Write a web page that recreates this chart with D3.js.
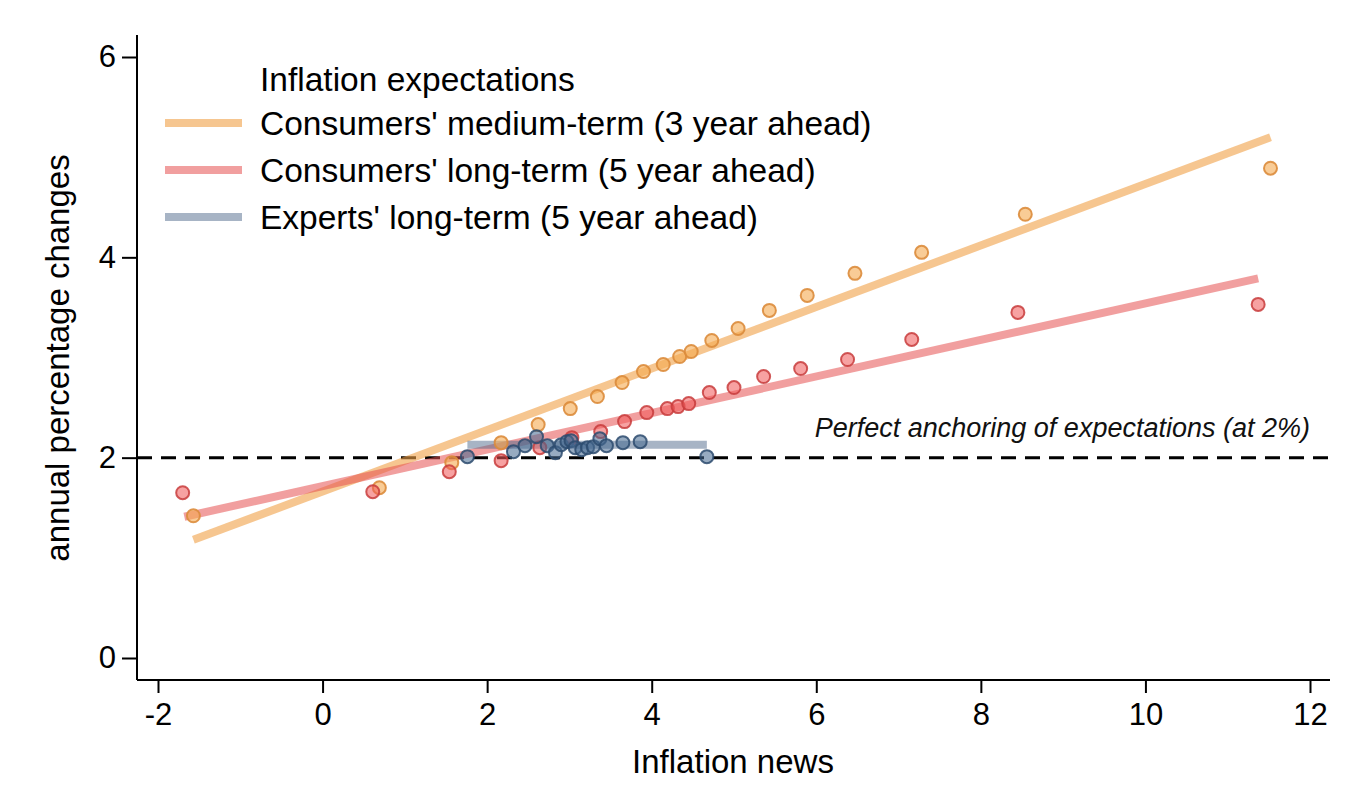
<!DOCTYPE html>
<html>
<head>
<meta charset="utf-8">
<script src="https://cdn.jsdelivr.net/npm/d3@7"></script>
<style>
  html, body { margin: 0; padding: 0; background: #fff; }
  svg { display: block; font-family: "Liberation Sans", Arial, Helvetica, sans-serif; }
</style>
</head>
<body>
<svg id="chart" width="1370" height="794"></svg>
<script>
// ---- Data ----
const xTicks = [-2, 0, 2, 4, 6, 8, 10, 12];
const yTicks = [0, 2, 4, 6];

const mediumX = [-1.57, 0.69, 1.57, 2.17, 2.62, 3.01, 3.34, 3.64, 3.90, 4.14, 4.34, 4.48, 4.73, 5.05, 5.43, 5.89, 6.47, 7.28, 8.54, 11.52];
const mediumY = [1.42, 1.70, 1.95, 2.15, 2.33, 2.49, 2.61, 2.75, 2.86, 2.93, 3.01, 3.06, 3.17, 3.29, 3.47, 3.62, 3.84, 4.05, 4.43, 4.89];

const longX = [-1.70, 0.61, 1.54, 2.17, 2.64, 3.03, 3.38, 3.67, 3.94, 4.19, 4.32, 4.45, 4.70, 5.00, 5.36, 5.81, 6.38, 7.16, 8.45, 11.37];
const longY = [1.65, 1.66, 1.86, 1.97, 2.10, 2.20, 2.26, 2.36, 2.45, 2.49, 2.51, 2.54, 2.65, 2.70, 2.81, 2.89, 2.98, 3.18, 3.45, 3.53];

const expertX = [1.76, 2.32, 2.46, 2.60, 2.73, 2.83, 2.90, 2.97, 3.02, 3.07, 3.15, 3.22, 3.29, 3.37, 3.45, 3.65, 3.86, 4.67];
const expertY = [2.01, 2.06, 2.12, 2.21, 2.12, 2.05, 2.13, 2.16, 2.17, 2.10, 2.08, 2.10, 2.11, 2.19, 2.12, 2.15, 2.16, 2.01];

// fitted lines (endpoints)
const mediumFitX = [-1.57, 11.52];
const mediumFitY = [1.18, 5.20];
const longFitX = [-1.68, 11.37];
const longFitY = [1.41, 3.79];
const expertFitX = [1.76, 4.67];
const expertFitY = [2.13, 2.13];

const anchorLevel = 2;

const seriesNames = [
  "Consumers' medium-term (3 year ahead)",
  "Consumers' long-term (5 year ahead)",
  "Experts' long-term (5 year ahead)"
];
const legendTitle = "Inflation expectations";
const xTitle = "Inflation news";
const yTitle = "annual percentage changes";
const anchorLabel = "Perfect anchoring of expectations (at 2%)";

// ---- Styles ----
const styles = [
  { line: "rgba(240,160,70,0.6)",  fill: "rgba(245,170,80,0.75)", stroke: "rgba(220,140,60,0.9)" },
  { line: "rgba(230,80,80,0.55)",  fill: "rgba(240,90,90,0.7)",   stroke: "rgba(200,60,60,0.85)" },
  { line: "rgba(80,105,140,0.5)",  fill: "rgba(70,105,145,0.7)",  stroke: "rgba(45,75,110,0.85)" }
];

// ---- Scales ----
const svg = d3.select("#chart");
const x = d3.scaleLinear().domain([-2, 12]).range([158, 1310]);
const y = d3.scaleLinear().domain([0, 6]).range([658, 57]);
const xAxisY = 680, yAxisX = 137;
const xMinPix = 137, xMaxPix = 1330, yTopPix = 35;
const fmt = d => String(d); // plain hyphen minus like the original

// ---- Axes ----
const xAxis = svg.append("g")
  .attr("transform", `translate(0,${xAxisY})`)
  .call(d3.axisBottom(x).tickValues(xTicks).tickSize(13).tickPadding(10).tickFormat(fmt));
xAxis.select(".domain").remove();
xAxis.append("line").attr("x1", xMinPix).attr("x2", xMaxPix).attr("y1", 0).attr("y2", 0)
  .attr("stroke", "#000").attr("stroke-width", 2);
xAxis.selectAll(".tick line").attr("stroke", "#000").attr("stroke-width", 2);
xAxis.selectAll(".tick text").attr("font-size", 31).attr("fill", "#000")
  .attr("font-family", "Liberation Sans, Arial, sans-serif");

const yAxis = svg.append("g")
  .attr("transform", `translate(${yAxisX},0)`)
  .call(d3.axisLeft(y).tickValues(yTicks).tickSize(15).tickPadding(6).tickFormat(fmt));
yAxis.select(".domain").remove();
yAxis.append("line").attr("x1", 0).attr("x2", 0).attr("y1", yTopPix).attr("y2", xAxisY)
  .attr("stroke", "#000").attr("stroke-width", 2);
yAxis.selectAll(".tick line").attr("stroke", "#000").attr("stroke-width", 2);
yAxis.selectAll(".tick text").attr("font-size", 31).attr("fill", "#000")
  .attr("font-family", "Liberation Sans, Arial, sans-serif");

// axis titles
svg.append("text").attr("x", 733).attr("y", 773).attr("text-anchor", "middle")
  .attr("font-size", 33).attr("fill", "#000").text(xTitle);
svg.append("text").attr("transform", `translate(69,358) rotate(-90)`).attr("text-anchor", "middle")
  .attr("font-size", 33).attr("fill", "#000").text(yTitle);

// ---- Anchor dashed line ----
svg.append("line")
  .attr("x1", yAxisX).attr("x2", xMaxPix)
  .attr("y1", y(anchorLevel)).attr("y2", y(anchorLevel))
  .attr("stroke", "#000").attr("stroke-width", 3).attr("stroke-dasharray", "15 9");
svg.append("text").attr("x", 1310).attr("y", 437).attr("text-anchor", "end")
  .attr("font-size", 27).attr("font-style", "italic").attr("fill", "#111").text(anchorLabel);

// ---- Fit lines ----
const fits = [
  d3.zip(mediumFitX, mediumFitY),
  d3.zip(longFitX, longFitY),
  d3.zip(expertFitX, expertFitY)
];
const lineGen = d3.line().x(d => x(d[0])).y(d => y(d[1]));
fits.forEach((f, i) => {
  svg.append("path").datum(f).attr("d", lineGen)
    .attr("fill", "none").attr("stroke", styles[i].line).attr("stroke-width", 8);
});

// ---- Points ----
const pts = [
  d3.zip(mediumX, mediumY),
  d3.zip(longX, longY),
  d3.zip(expertX, expertY)
];
pts.forEach((p, i) => {
  svg.append("g").selectAll("circle").data(p).join("circle")
    .attr("cx", d => x(d[0])).attr("cy", d => y(d[1])).attr("r", 6.5)
    .attr("fill", styles[i].fill).attr("stroke", styles[i].stroke).attr("stroke-width", 2)
    .attr("fill-opacity", 0.8);
});

// ---- Legend ----
const lg = svg.append("g");
lg.append("text").attr("x", 260).attr("y", 79).attr("dominant-baseline", "central")
  .attr("font-size", 33.5).attr("fill", "#000").text(legendTitle);
seriesNames.forEach((name, i) => {
  const cy = 123 + i * 47;
  lg.append("line").attr("x1", 165).attr("x2", 242).attr("y1", cy).attr("y2", cy)
    .attr("stroke", styles[i].line).attr("stroke-width", 8);
  lg.append("text").attr("x", 260).attr("y", cy).attr("dominant-baseline", "central")
    .attr("font-size", 33.5).attr("fill", "#000").text(name);
});
</script>
</body>
</html>
